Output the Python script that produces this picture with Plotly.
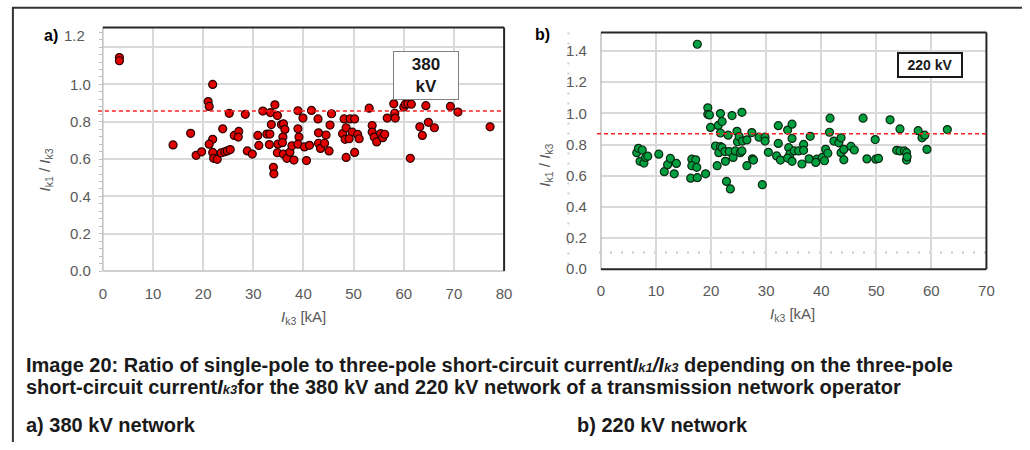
import plotly.graph_objects as go

W, H = 1030, 450

# ---------------- data ----------------
x380 = [3.3, 3.3, 14.0, 17.5, 18.6, 19.7, 21.0, 21.2, 21.9, 21.9, 21.2, 21.9, 22.1, 22.8,
        23.9, 23.6, 24.3, 24.8, 25.4, 25.2, 26.2, 27.1, 27.0, 28.4, 28.8, 29.8, 30.9, 31.1,
        31.9, 32.7, 33.4, 33.6, 33.3, 33.2, 34.0, 34.1, 34.3, 34.8, 34.9, 34.8, 35.6, 36.0,
        35.9, 36.3, 36.0, 36.7, 35.8, 37.3, 37.7, 38.1, 38.9, 38.9, 39.1, 38.9, 39.9, 40.2,
        40.6, 41.2, 41.6, 42.9, 43.0, 43.0, 43.4, 44.5, 44.2, 45.3, 45.6, 45.1, 48.1, 47.8,
        48.5, 48.3, 48.5, 49.3, 50.2, 49.7, 49.1, 50.2, 50.8, 51.1, 53.1, 53.7, 53.7, 54.1,
        54.6, 55.4, 55.8, 56.2, 56.7, 58.0, 58.2, 58.3, 60.0, 60.3, 60.8, 61.5, 61.3, 63.2,
        63.7, 64.4, 64.9, 66.1, 69.3, 70.8, 77.2]
y380 = [1.144, 1.127, 0.676, 0.738, 0.620, 0.639, 0.908, 0.882, 1.000, 0.706, 0.680, 0.636,
        0.604, 0.599, 0.762, 0.634, 0.639, 0.644, 0.651, 0.845, 0.727, 0.748, 0.718, 0.840,
        0.644, 0.627, 0.727, 0.673, 0.857, 0.734, 0.849, 0.785, 0.734, 0.678, 0.556, 0.521,
        0.891, 0.833, 0.680, 0.634, 0.785, 0.789, 0.718, 0.759, 0.627, 0.604, 0.688, 0.637,
        0.671, 0.595, 0.859, 0.762, 0.718, 0.680, 0.820, 0.665, 0.592, 0.674, 0.861, 0.815,
        0.741, 0.685, 0.657, 0.729, 0.685, 0.782, 0.843, 0.644, 0.815, 0.736, 0.768, 0.706,
        0.609, 0.815, 0.815, 0.745, 0.709, 0.636, 0.732, 0.709, 0.873, 0.780, 0.745, 0.718,
        0.692, 0.736, 0.715, 0.733, 0.820, 0.896, 0.845, 0.820, 0.879, 0.894, 0.896, 0.894,
        0.604, 0.773, 0.727, 0.886, 0.797, 0.768, 0.882, 0.852, 0.773]

x220 = [17.5, 6.5, 6.8, 7.5, 7.1, 7.8, 8.1, 8.5, 10.5, 11.5, 12.1, 12.6, 13.3, 13.7, 16.3,
        16.5, 17.2, 16.5, 17.4, 17.5, 19.0, 19.4, 19.4, 19.7, 19.9, 20.8, 21.3, 21.7, 22.0,
        21.7, 21.7, 21.4, 21.1, 22.0, 22.5, 22.6, 22.8, 23.5, 23.1, 23.8, 23.3, 24.0, 24.4,
        24.7, 24.8, 25.1, 25.3, 25.6, 25.6, 25.7, 26.5, 26.5, 27.4, 27.5, 27.7, 28.7, 29.8,
        29.8, 29.3, 30.4, 32.2, 32.2, 31.9, 32.6, 33.9, 34.7, 34.7, 34.1, 34.3, 33.9, 34.7,
        35.1, 35.9, 36.5, 36.8, 36.8, 38.0, 37.8, 39.2, 39.0, 40.2, 40.6, 40.8, 41.2, 41.6,
        41.5, 42.3, 43.2, 43.6, 43.6, 44.1, 44.1, 45.4, 46.0, 47.6, 48.3, 49.8, 49.9, 50.4,
        52.5, 54.3, 53.7, 54.3, 55.1, 55.5, 55.5, 55.6, 57.6, 58.3, 58.8, 59.2, 62.9]
y220 = [1.444, 0.748, 0.776, 0.765, 0.692, 0.681, 0.717, 0.725, 0.738, 0.626, 0.671, 0.711,
        0.612, 0.679, 0.584, 0.706, 0.702, 0.664, 0.654, 0.587, 0.612, 1.036, 0.994, 0.990,
        0.910, 0.790, 0.923, 0.999, 0.948, 0.874, 0.786, 0.748, 0.664, 0.780, 0.755, 0.692,
        0.563, 0.515, 0.860, 0.986, 0.755, 0.717, 0.759, 0.885, 0.818, 0.851, 0.748, 1.007,
        0.759, 0.822, 0.830, 0.664, 0.877, 0.708, 0.700, 0.847, 0.847, 0.822, 0.542, 0.750,
        0.921, 0.807, 0.727, 0.700, 0.893, 0.931, 0.839, 0.780, 0.738, 0.713, 0.692, 0.759,
        0.759, 0.675, 0.801, 0.763, 0.853, 0.708, 0.706, 0.685, 0.717, 0.696, 0.769, 0.744,
        0.969, 0.879, 0.822, 0.811, 0.843, 0.748, 0.702, 0.769, 0.788, 0.765, 0.969, 0.708,
        0.832, 0.706, 0.711, 0.959, 0.900, 0.763, 0.759, 0.759, 0.748, 0.700, 0.721, 0.889,
        0.843, 0.860, 0.769, 0.896]

ref380 = 0.857
ref220 = 0.87
dotted220 = 0.107

xticks380 = [0, 10, 20, 30, 40, 50, 60, 70, 80]
xticks220 = [0, 10, 20, 30, 40, 50, 60, 70]
yticks380 = [0.0, 0.2, 0.4, 0.6, 0.8, 1.0, 1.2]
yticklabels380 = ["0.0", "0.2", "0.4", "0.6", "0.8", "1.0", ""]
yticks220 = [0.0, 0.2, 0.4, 0.6, 0.8, 1.0, 1.2, 1.4]
yticklabels220 = ["0.0", "0.2", "0.4", "0.6", "0.8", "1.0", "1.2", "1.4"]

# ---------------- layout helpers (pixels -> paper) ----------------
def px(x):
    return x / W

def py(y):
    return 1 - y / H

A = dict(l=100, r=506, t=28, b=276)   # panel a
B = dict(l=604, r=994, t=33, b=274)   # panel b

GRID = "#d9d9d9"
TICKC = "#595959"
FONT = "Liberation Sans, Arial, sans-serif"

fig = go.Figure()
fig.add_trace(go.Scatter(
    x=x380, y=y380, mode="markers", xaxis="x", yaxis="y",
    marker=dict(size=8, color="#e00000", line=dict(color="#2a0000", width=1.2)),
    showlegend=False, hoverinfo="x+y"))
fig.add_trace(go.Scatter(
    x=x220, y=y220, mode="markers", xaxis="x2", yaxis="y2",
    marker=dict(size=8, color="#00a040", line=dict(color="#0b2a12", width=1.2)),
    showlegend=False, hoverinfo="x+y"))

axis_common = dict(showgrid=True, gridcolor=GRID, gridwidth=1.5, zeroline=False,
                   showline=False, tickfont=dict(family=FONT, size=15, color=TICKC),
                   ticks="", fixedrange=True)

fig.update_layout(
    width=W, height=H,
    margin=dict(l=0, r=0, t=0, b=0),
    paper_bgcolor="white", plot_bgcolor="white",
    font=dict(family=FONT),
    xaxis=dict(domain=[px(A["l"]), px(A["r"])], range=[0, 80], tickvals=xticks380,
               anchor="y", ticklabelstandoff=12, **axis_common),
    yaxis=dict(domain=[py(A["b"]), py(A["t"])], range=[0, 1.305], tickvals=yticks380,
               ticktext=yticklabels380, anchor="x", ticklabelstandoff=11,
               minor=dict(ticks="outside", ticklen=3, tickcolor="#bfbfbf", dtick=0.04,
                          showgrid=False),
               **axis_common),
    xaxis2=dict(domain=[px(B["l"]), px(B["r"])], range=[0, 70], tickvals=xticks220,
                anchor="y2", ticklabelstandoff=11, **axis_common),
    yaxis2=dict(domain=[py(B["b"]), py(B["t"])], range=[0, 1.52], tickvals=yticks220,
                ticktext=yticklabels220, anchor="x2", ticklabelstandoff=13, **axis_common),
)

shapes = []
# outer figure border (top and left only)
shapes.append(dict(type="line", xref="paper", yref="paper", x0=px(8), x1=1, y0=py(8), y1=py(8),
                   line=dict(color="#333333", width=2)))
shapes.append(dict(type="line", xref="paper", yref="paper", x0=px(9), x1=px(9), y0=py(8), y1=0,
                   line=dict(color="#333333", width=2)))

def frame(P, dark_sides, gray_sides):
    coords = {
        "top": (P["l"], P["t"], P["r"], P["t"]),
        "bottom": (P["l"], P["b"], P["r"], P["b"]),
        "left": (P["l"], P["t"], P["l"], P["b"]),
        "right": (P["r"], P["t"], P["r"], P["b"]),
    }
    for s in gray_sides:
        x0, y0, x1, y1 = coords[s]
        shapes.append(dict(type="line", xref="paper", yref="paper",
                           x0=px(x0), y0=py(y0), x1=px(x1), y1=py(y1),
                           line=dict(color="#bfbfbf", width=1.5)))
    for s in dark_sides:
        x0, y0, x1, y1 = coords[s]
        shapes.append(dict(type="line", xref="paper", yref="paper",
                           x0=px(x0), y0=py(y0), x1=px(x1), y1=py(y1),
                           line=dict(color="#262626", width=2)))

frame(A, ["top", "right"], ["left", "bottom"])
frame(B, ["top", "right", "bottom"], ["left"])

# reference dashed lines
shapes.append(dict(type="line", xref="paper", yref="y", x0=px(95), x1=px(A["r"]),
                   y0=ref380, y1=ref380, line=dict(color="#ff2020", width=1.5, dash="4px,3px")))
shapes.append(dict(type="line", xref="paper", yref="y2", x0=px(600), x1=px(B["r"]),
                   y0=ref220, y1=ref220, line=dict(color="#ff2020", width=1.5, dash="4px,3px")))
# dotted grey lines in panel b
shapes.append(dict(type="line", xref="paper", yref="y2", x0=px(602), x1=px(B["r"]),
                   y0=dotted220, y1=dotted220, layer="below",
                   line=dict(color="#c8c8c8", width=2, dash="2px,9px")))
shapes.append(dict(type="line", xref="paper", yref="paper", x0=px(571), x1=px(571),
                   y0=py(B["t"]), y1=py(B["b"]), layer="below",
                   line=dict(color="#cfcfcf", width=2, dash="2px,8px")))
fig.update_layout(shapes=shapes)

ann = []
# panel labels
ann.append(dict(text="<b>a)</b>", x=px(38), y=py(36), xref="paper", yref="paper",
                xanchor="left", yanchor="middle", showarrow=False,
                font=dict(family=FONT, size=16, color="#000000")))
ann.append(dict(text="1.2", x=px(84), y=py(36), xref="paper", yref="paper",
                xanchor="right", yanchor="middle", showarrow=False,
                font=dict(family=FONT, size=15, color=TICKC)))
ann.append(dict(text="<b>b)</b>", x=px(535), y=py(35), xref="paper", yref="paper",
                xanchor="left", yanchor="middle", showarrow=False,
                font=dict(family=FONT, size=16, color="#000000")))
# axis titles
ytitle = "<i>I</i><sub>k1</sub> / <i>I</i><sub>k3</sub>"
xtitle = "<i>I</i><sub>k3</sub> [kA]"
ann.append(dict(text=ytitle, x=px(42), y=py(173), xref="paper", yref="paper",
                textangle=-90, showarrow=False, xanchor="center", yanchor="middle",
                font=dict(family=FONT, size=15, color=TICKC)))
ann.append(dict(text=ytitle, x=px(547), y=py(168), xref="paper", yref="paper",
                textangle=-90, showarrow=False, xanchor="center", yanchor="middle",
                font=dict(family=FONT, size=15, color=TICKC)))
ann.append(dict(text=xtitle, x=px(303), y=py(323), xref="paper", yref="paper",
                showarrow=False, xanchor="center", yanchor="middle",
                font=dict(family=FONT, size=15, color=TICKC)))
ann.append(dict(text=xtitle, x=px(798), y=py(320), xref="paper", yref="paper",
                showarrow=False, xanchor="center", yanchor="middle",
                font=dict(family=FONT, size=15, color=TICKC)))
# voltage boxes
ann.append(dict(text="<b>380</b><br><b>kV</b>", x=px(426.5), y=py(76.5), xref="paper", yref="paper",
                showarrow=False, xanchor="center", yanchor="middle", width=60, height=43,
                bgcolor="white", bordercolor="#808080", borderwidth=1, borderpad=2,
                font=dict(family=FONT, size=17, color="#1a1a1a")))
ann.append(dict(text="<b>220 kV</b>", x=px(937), y=py(66), xref="paper", yref="paper",
                showarrow=False, xanchor="center", yanchor="middle", width=60, height=20,
                bgcolor="white", bordercolor="#1a1a1a", borderwidth=2, borderpad=1,
                font=dict(family=FONT, size=14, color="#1a1a1a")))
# caption
small = "<span style='font-size:13px'>{}</span>"
cap1 = ("<b>Image 20: Ratio of single-pole to three-pole short-circuit current"
        "<i>I" + small.format("k1") + "/I" + small.format("k3") + "</i>"
        " depending on the three-pole</b>")
cap2 = ("<b>short-circuit current<i>I" + small.format("k3") + "</i>"
        "for the 380 kV and 220 kV network of a transmission network operator</b>")
for txt, xx, yy in [(cap1, 20, 372), (cap2, 20, 394),
                    ("<b>a) 380 kV network</b>", 20, 433),
                    ("<b>b) 220 kV network</b>", 578, 433)]:
    ann.append(dict(text=txt, x=px(xx), y=py(yy), xref="paper", yref="paper",
                    showarrow=False, xanchor="left", yanchor="middle",
                    font=dict(family=FONT, size=20, color="#1a1a1a")))
fig.update_layout(annotations=ann)

fig.write_html("out.html", config={"displayModeBar": False})
